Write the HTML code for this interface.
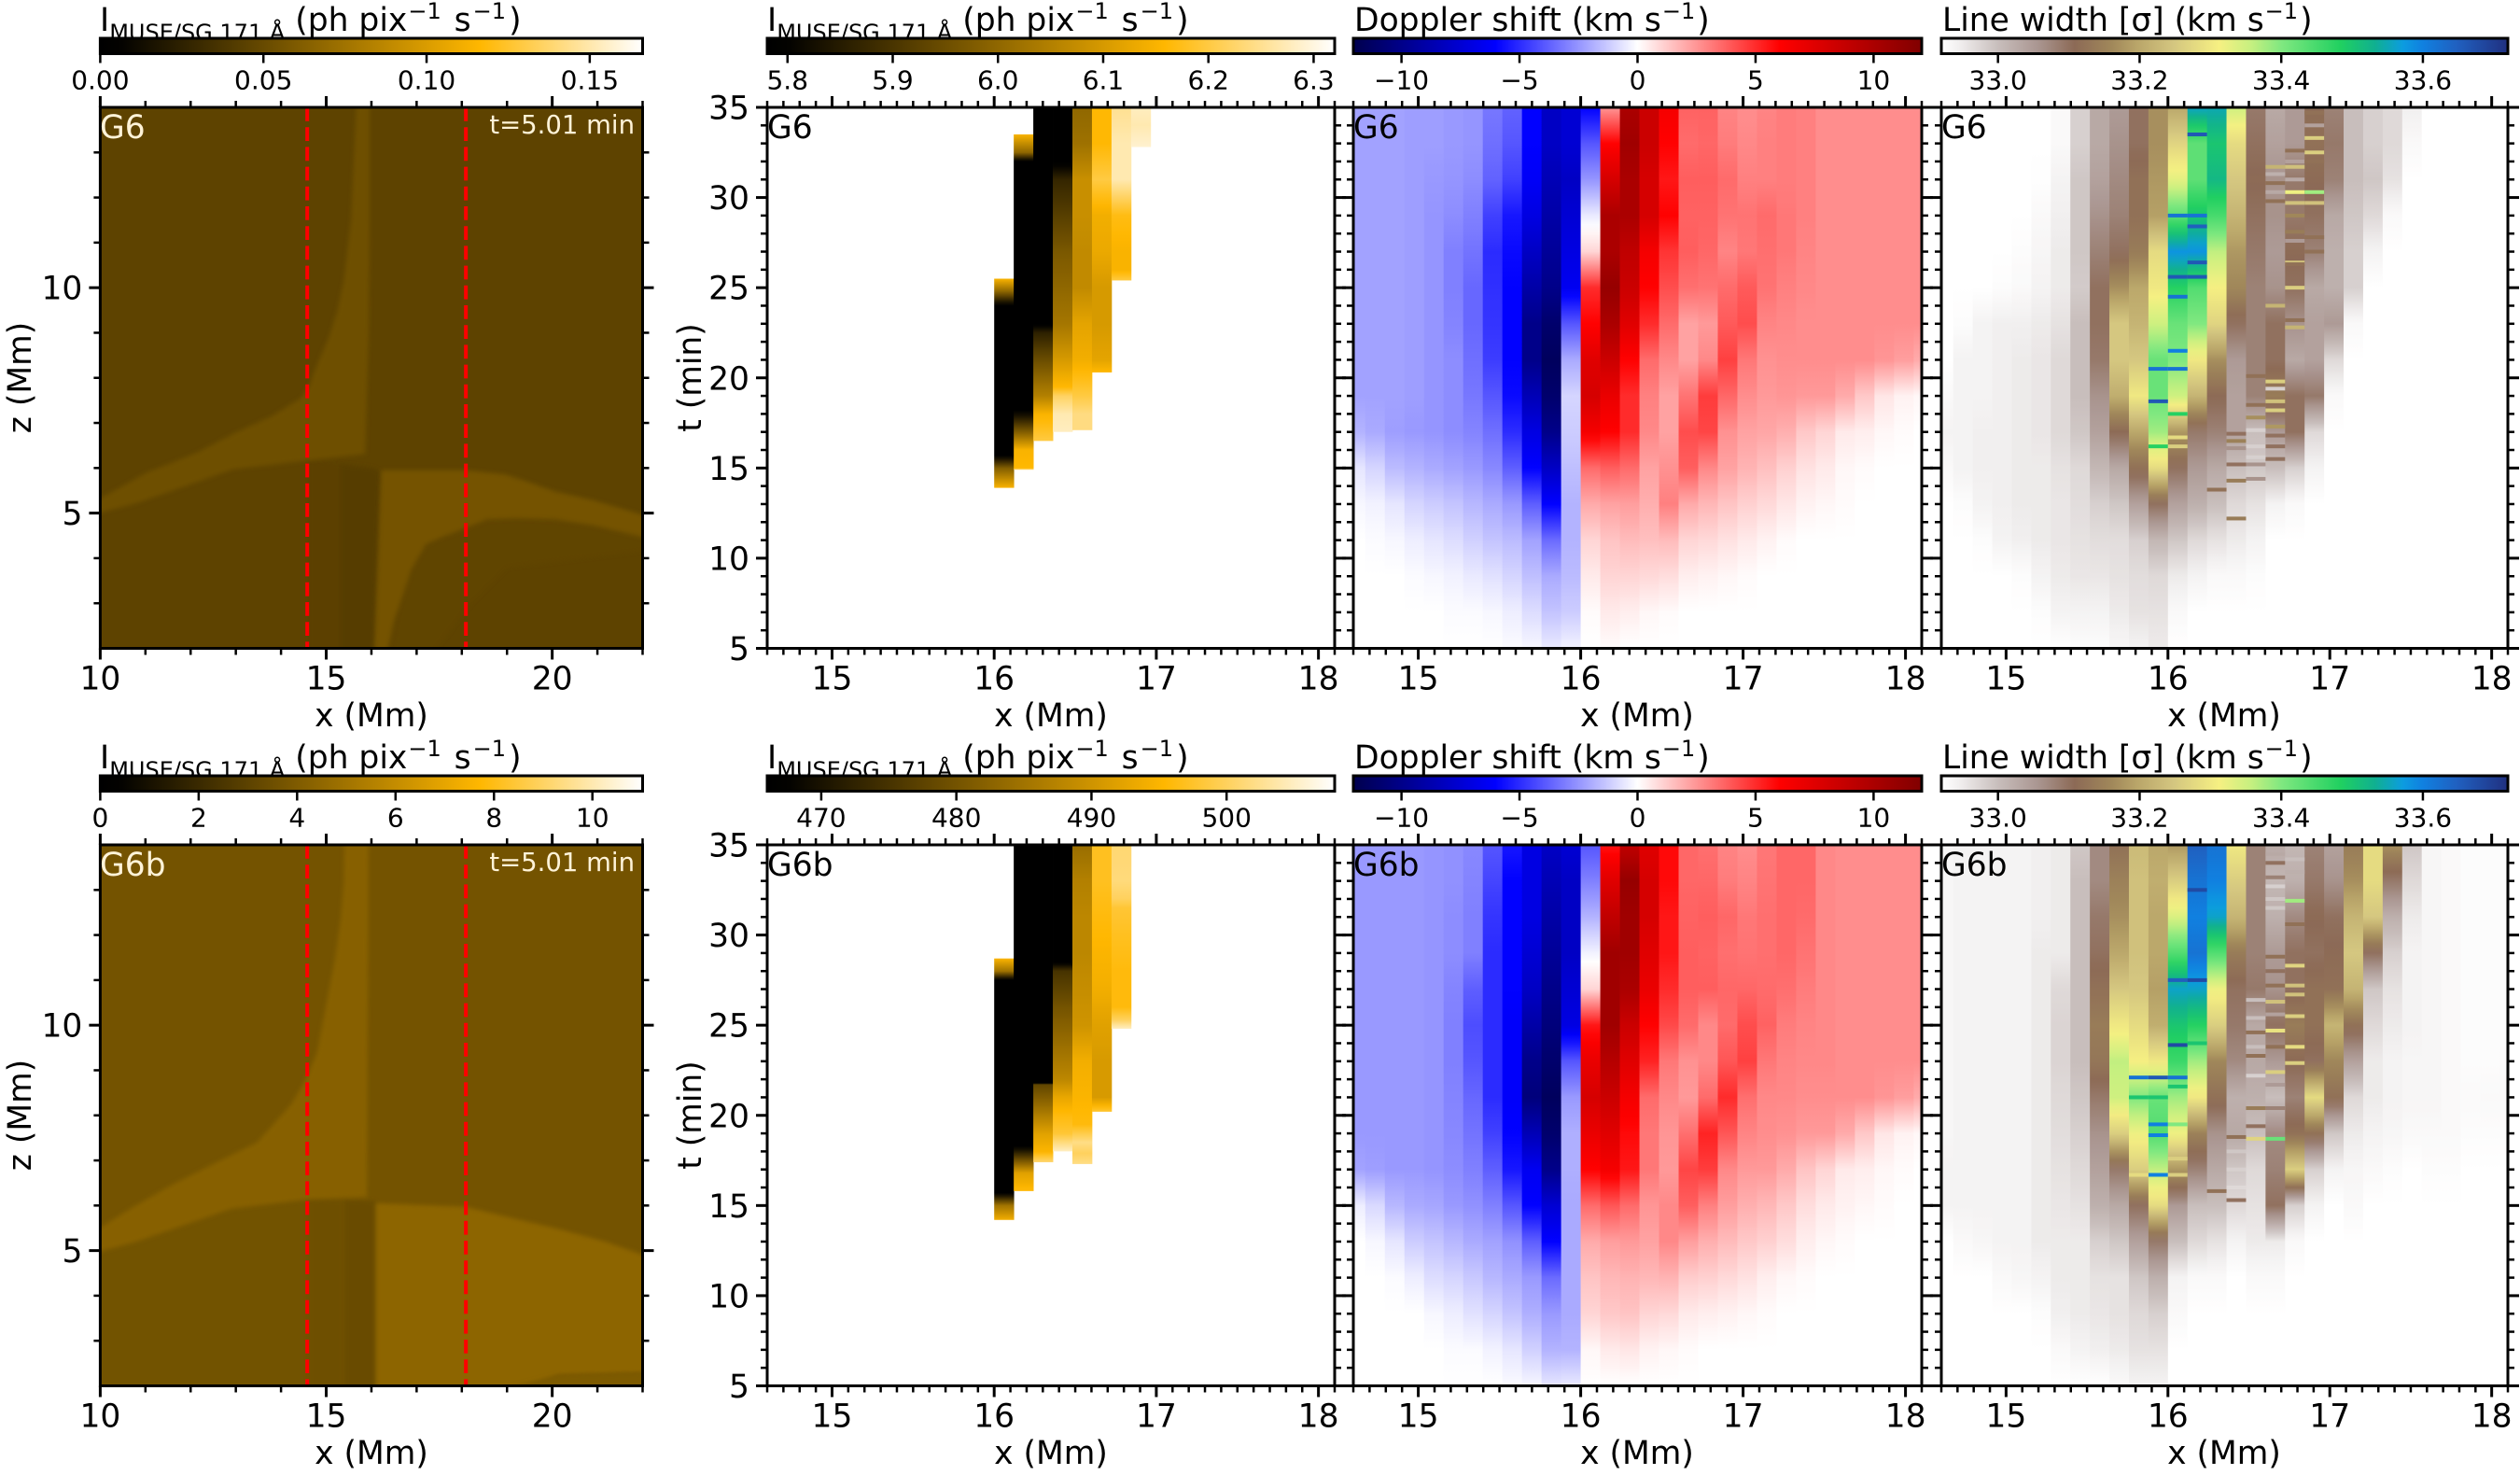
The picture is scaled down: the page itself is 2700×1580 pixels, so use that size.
<!DOCTYPE html>
<html lang="en">
<head>
<meta charset="utf-8">
<title>MUSE/SG 171 Å synthetic observables G6 and G6b</title>
<style>
html,body{margin:0;padding:0;background:#fff;}
svg{display:block;}
text{font-family:"DejaVu Sans","Liberation Sans",sans-serif;fill:#000;}
.lab{font-size:34.5px;}
.sub{font-size:24px;}
.tag{font-size:34.5px;}
.cream{fill:#fff3d8;}
.time{font-size:27.5px;}
.tick{font-size:34.5px;}
.bartick{font-size:28px;}
</style>
</head>
<body>
<svg id="figure" xmlns="http://www.w3.org/2000/svg" width="2700" height="1580" viewBox="0 0 2700 1580">
<rect x="0" y="0" width="2700" height="1580" fill="#fff"/>
<g>
<text class="lab" x="107" y="33">I<tspan class="sub" dy="10">MUSE/SG 171 Å</tspan><tspan dy="-10"> (ph pix</tspan><tspan class="sub" dy="-13" dx="1">−1</tspan><tspan dy="13" dx="3"> s</tspan><tspan class="sub" dy="-13" dx="2">−1</tspan><tspan dy="13" dx="3">)</tspan></text>
<text class="lab" x="822" y="33">I<tspan class="sub" dy="10">MUSE/SG 171 Å</tspan><tspan dy="-10"> (ph pix</tspan><tspan class="sub" dy="-13" dx="1">−1</tspan><tspan dy="13" dx="3"> s</tspan><tspan class="sub" dy="-13" dx="2">−1</tspan><tspan dy="13" dx="3">)</tspan></text>
<text class="lab" x="1451" y="33">Doppler shift (km s<tspan class="sub" dy="-13" dx="1">−1</tspan><tspan dy="13" dx="2">)</tspan></text>
<text class="lab" x="2081" y="33">Line width [σ] (km s<tspan class="sub" dy="-13" dx="1">−1</tspan><tspan dy="13" dx="2">)</tspan></text>
<text class="lab" x="107" y="823">I<tspan class="sub" dy="10">MUSE/SG 171 Å</tspan><tspan dy="-10"> (ph pix</tspan><tspan class="sub" dy="-13" dx="1">−1</tspan><tspan dy="13" dx="3"> s</tspan><tspan class="sub" dy="-13" dx="2">−1</tspan><tspan dy="13" dx="3">)</tspan></text>
<text class="lab" x="822" y="823">I<tspan class="sub" dy="10">MUSE/SG 171 Å</tspan><tspan dy="-10"> (ph pix</tspan><tspan class="sub" dy="-13" dx="1">−1</tspan><tspan dy="13" dx="3"> s</tspan><tspan class="sub" dy="-13" dx="2">−1</tspan><tspan dy="13" dx="3">)</tspan></text>
<text class="lab" x="1451" y="823">Doppler shift (km s<tspan class="sub" dy="-13" dx="1">−1</tspan><tspan dy="13" dx="2">)</tspan></text>
<text class="lab" x="2081" y="823">Line width [σ] (km s<tspan class="sub" dy="-13" dx="1">−1</tspan><tspan dy="13" dx="2">)</tspan></text>
</g>
<g id="marks"></g>
<g>
<text class="tag cream" x="107" y="148">G6</text>
<text class="time cream" x="680" y="143" text-anchor="end">t=5.01 min</text>
<text class="tag" x="822" y="148">G6</text>
<text class="tag" x="1450" y="148">G6</text>
<text class="tag" x="2080" y="148">G6</text>
<text class="tag cream" x="107" y="938">G6b</text>
<text class="time cream" x="680" y="933" text-anchor="end">t=5.01 min</text>
<text class="tag" x="822" y="938">G6b</text>
<text class="tag" x="1450" y="938">G6b</text>
<text class="tag" x="2080" y="938">G6b</text>
</g>
<g>
<text class="lab" x="398" y="778" text-anchor="middle">x (Mm)</text>
<text class="lab" x="1126" y="778" text-anchor="middle">x (Mm)</text>
<text class="lab" x="1754" y="778" text-anchor="middle">x (Mm)</text>
<text class="lab" x="2383" y="778" text-anchor="middle">x (Mm)</text>
<text class="lab" x="398" y="1568" text-anchor="middle">x (Mm)</text>
<text class="lab" x="1126" y="1568" text-anchor="middle">x (Mm)</text>
<text class="lab" x="1754" y="1568" text-anchor="middle">x (Mm)</text>
<text class="lab" x="2383" y="1568" text-anchor="middle">x (Mm)</text>
<text class="lab" transform="translate(33,404.5) rotate(-90)" text-anchor="middle">z (Mm)</text>
<text class="lab" transform="translate(751,404.5) rotate(-90)" text-anchor="middle">t (min)</text>
<text class="lab" transform="translate(33,1194.5) rotate(-90)" text-anchor="middle">z (Mm)</text>
<text class="lab" transform="translate(751,1194.5) rotate(-90)" text-anchor="middle">t (min)</text>
</g>
</svg>
<script>
// ---------- shared axis data ----------
const sampleTimes = [35,33,31,29,27,25,23,21,19,17,15,13,11,9,7,5];
const firstColumnIndex = -12;
const contextXTicks = [10,15,20];
const contextXMinor = [11,12,13,14,16,17,18,19,21,22];
const contextZTicks = [5,10];
const contextZMinor = [3,4,6,7,8,9,11,12,13];
const slitXTicks = [15,16,17,18];
const slitXMinor = [14.6,14.7,14.8,14.9,15.1,15.2,15.3,15.4,15.5,15.6,15.7,15.8,15.9,16.1,16.2,16.3,16.4,16.5,16.6,16.7,16.8,16.9,17.1,17.2,17.3,17.4,17.5,17.6,17.7,17.8,17.9,18.1];
const timeTicks = [5,10,15,20,25,30,35];
const timeMinor = [6,7,8,9,11,12,13,14,16,17,18,19,21,22,23,24,26,27,28,29,31,32,33,34];
const slitPositions = [14.58,18.09];

// ---------- colorbar ticks ----------
const g6ContextBarLabels = ["0.00","0.05","0.10","0.15"];
const g6bContextBarLabels = ["0","2","4","6","8","10"];
const g6IntensityBarLabels = ["5.8","5.9","6.0","6.1","6.2","6.3"];
const g6bIntensityBarLabels = ["470","480","490","500"];
const dopplerBarValues = [-10,-5,0,5,10];
const dopplerBarLabels = ["−10","−5","0","5","10"];
const widthBarLabels = ["33.0","33.2","33.4","33.6"];

// ---------- context image regions (x, z in Mm; value in ph/pix/s) ----------
const g6ContextBase = 0.0458;
const g6ContextStripFar = {value:0.0446, xs:[14.6,15.3,15.3,14.6], zs:[6.15,6.1,1.7,1.7]};
const g6ContextStrip = {value:0.0429, xs:[15.3,16.06,16.2,16.06,15.3], zs:[6.1,6.0,5.9,1.7,1.7]};
const g6ContextLower = {value:0.0468, xs:[16.4,16.66,16.89,17.21,18.08,18.56,20.06,22.3,22.3,19,18.2,17.2], zs:[1.7,3.07,3.76,4.31,4.66,4.86,4.86,4.48,4.2,3.8,3.0,1.7]};
const g6ContextWing = {value:0.0529, xs:[9.7,10.5,11.03,11.6,12.14,13.01,13.8,14.44,14.62,14.75,15.07,15.25,15.39,15.55,15.68,15.96,15.96,15.94,15.86,14.6,12.93,11.74,10.8,9.7], zs:[5.16,5.6,5.9,6.12,6.34,6.79,7.15,7.55,7.8,8.17,8.93,9.5,10.17,11.5,14.3,14.3,11.5,9,6.31,6.17,5.97,5.55,5.22,4.93]};
const g6ContextBand = {value:0.0557, xs:[16.22,18.08,18.95,19.5,20.06,20.93,22.3,22.3,20.93,20.06,19.2,18.56,18.08,17.6,17.21,16.89,16.66,16.5,16.38,16.3,16.06], zs:[5.95,5.95,5.86,5.68,5.48,5.28,4.87,4.4,4.72,4.86,4.88,4.86,4.66,4.48,4.31,3.76,3.07,2.6,2.03,1.7,1.7]};
const g6bContextBase = 3.69;
const g6bContextLower = {value:3.63, xs:[9.7,11.6,12.93,14.6,14.6,9.7], zs:[4.9,5.48,5.97,6.14,1.7,1.7]};
const g6bContextStripFar = {value:3.52, xs:[14.6,15.4,15.4,14.6], zs:[6.14,6.12,1.7,1.7]};
const g6bContextStrip = {value:3.36, xs:[15.4,16.1,16.1,15.4], zs:[6.12,6.1,1.7,1.7]};
const g6bContextWing = {value:4.23, xs:[9.7,10.7,11.57,12.5,13.47,14.23,14.55,14.8,15.04,15.2,15.32,15.39,15.4,15.94,15.9,14.6,12.9,11.6,10.8,9.7], zs:[5.32,5.95,6.45,6.92,7.4,8.25,8.8,9.4,10.67,11.5,12.36,13.2,14.3,14.3,6.19,6.14,5.93,5.48,5.2,4.9]};
const g6bContextBand = {value:4.41, xs:[16.1,18.08,18.95,19.5,20.14,21.17,22.3,22.3,20.14,18.8,16.1], zs:[6.05,5.97,5.76,5.63,5.48,5.2,4.8,2.3,2.24,1.7,1.7]};
const g6bContextFoot = {value:3.95, xs:[18.8,20.14,22.3,22.3], zs:[1.9,2.24,2.3,1.9]};

// ---------- intensity columns: column index, times (min), values ----------
const g6IntensityColumns = [0,1,2,3,4,5,6,7];
const g6IntensityTimes = [
 [25.5,24.8,24,15.7,15,13.9],
 [33.5,32.5,32,18.2,17,16,15,14.9],
 [35,23,22.5,21.5,20,19,18,16.5],
 [35,32,31,29,27,25,23,21,19.5,19,18,17],
 [35,33,31,29,27,25,23,21,19,18,17.1],
 [35,33,31,29,27,25,23,21,20.3],
 [35,33,31,30,29,27,26,25.4],
 [35,34,32.8]
];
const g6IntensityValues = [
 [6.15,6.0,5.78,5.78,5.98,6.15],
 [6.15,6.0,5.78,5.78,5.98,6.15,6.16,6.25],
 [5.78,5.78,5.86,5.92,6.0,6.05,6.15,6.2],
 [5.78,5.78,5.87,5.92,5.97,6.0,6.03,6.1,6.16,6.22,6.27,6.28],
 [6.0,6.02,6.08,6.08,6.07,6.07,6.12,6.14,6.2,6.24,6.24],
 [6.16,6.16,6.2,6.14,6.13,6.1,6.1,6.12,6.16],
 [6.25,6.27,6.27,6.22,6.17,6.15,6.15,6.2],
 [6.28,6.27,6.29]
];
const g6bIntensityColumns = [0,1,2,3,4,5,6];
const g6bIntensityTimes = [
 [28.7,28,27.5,15.7,15,14.2],
 [35,18.3,17.5,16.8,15.8],
 [35,21.8,21.7,20.5,19,18,17.4],
 [35,28.5,28,26,24,22,21,20,19,18],
 [35,33,31,29,27,25,23,21,19.5,18.5,17.9,17.3],
 [35,33,31,29,27,25,23,21,20.2],
 [35,33,32,31.5,30,28,26,25.3,24.8]
];
const g6bIntensityValues = [
 [495,485,466,466,485,494],
 [466,466,480,492,496],
 [466,466,478,484,492,495,501],
 [466,466,475,480,484,488,493,496,498,505],
 [484,487,488,488,489,490,494,495,496,502,500,502],
 [497,497,496,495,494,492,491,491,498],
 [501,501.5,500,498,497,496,496,500,505]
];

// ---------- Doppler shift (km/s): one row per x bin, one value per sample time ----------
const g6Doppler = [
 [-2.2,-2.2,-2.2,-2.2,-2.2,-2.2,-2.2,-2.2,-2.2,-1.8,-0.6,-0.2,0,0,0,0],
 [-2.2,-2.2,-2.2,-2.2,-2.2,-2.2,-2.2,-2.2,-2.2,-2,-1,-0.3,-0.1,0,0,0],
 [-2.2,-2.2,-2.2,-2.2,-2.2,-2.2,-2.2,-2.2,-2.2,-2.3,-1.6,-0.6,-0.2,0,0,0],
 [-2.3,-2.3,-2.3,-2.3,-2.3,-2.3,-2.3,-2.3,-2.3,-2.4,-1.8,-1,-0.4,-0.1,0,0],
 [-2.3,-2.3,-2.4,-2.5,-2.5,-2.5,-2.5,-2.5,-2.5,-2.5,-2,-1.2,-0.6,-0.2,0,0],
 [-2.4,-2.4,-2.5,-2.7,-3,-3,-2.9,-2.7,-2.7,-2.7,-2.2,-1.4,-0.8,-0.3,-0.1,0],
 [-2.5,-2.5,-2.7,-3,-3.3,-3.6,-3.6,-3.4,-3.2,-2.9,-2.4,-1.7,-1.1,-0.5,-0.1,0],
 [-3.2,-3.4,-3.7,-4.5,-5,-4.9,-4.8,-4.6,-4,-3.4,-2.8,-2,-1.4,-0.7,-0.2,0],
 [-3.7,-4,-4.5,-5.5,-5.8,-6,-6,-6,-5.8,-5,-3.8,-2.4,-1.6,-1,-0.4,-0.1],
 [-6,-6,-6.3,-7,-8,-9,-10,-10,-8.5,-7,-6,-3.8,-2.2,-1.5,-0.8,-0.2],
 [-8,-8,-8.5,-9,-9.5,-10,-11,-11.5,-11,-10,-8,-6,-3.5,-2,-1.4,-0.5],
 [-7.5,-7.5,-8,-7.5,-7,-6.5,-4,-2,-1,-1.2,-1.5,-1.8,-1.8,-1.6,-1.2,-0.3],
 [-6,-4,-2.5,-0.5,1,5,6,7.5,8,6.5,3.5,2,1,0.5,0.1,0],
 [2.5,6,8,10,10,11,10,8.5,7,6,3.8,2.2,1.4,1,0.5,0.1],
 [10,10.5,10,10,9,8.5,7.5,6,5,5,3.5,2.3,1.6,1,0.4,0],
 [8.5,8.5,8,8,6.5,6,5,3.5,3,2.8,2.2,1.9,1.5,0.9,0.2,0],
 [6.5,6,5.5,6,4.8,4.2,3.5,2.8,2.2,2.2,2.6,3,1.6,0.8,0.1,0],
 [3.7,3.5,3.8,3.7,3.8,3.4,2.2,2.2,3.3,4.2,3.8,2,1,0.4,0,0],
 [3.7,3.6,3.8,3.7,3.6,3.3,2.4,2.8,4.6,4.4,2.8,1.7,0.9,0.3,0,0],
 [2.9,3.1,3.5,3.3,2.9,3.5,3.9,4.5,3.6,2.6,2.2,1.4,0.7,0.2,0,0],
 [2.7,2.8,3,3.3,3.2,3.9,4.2,3.2,2.7,2.2,1.8,1.1,0.5,0.1,0,0],
 [2.9,3,3,3.5,3.4,3.3,2.9,2.6,2.4,2.1,1.5,0.9,0.3,0,0,0],
 [3.1,3.1,3.1,3.2,3.2,3,2.8,2.7,2.5,1.9,1.1,0.6,0.1,0,0,0],
 [3,3,3,3,2.9,2.8,2.7,2.7,2.4,1.3,0.7,0.3,0,0,0,0],
 [2.7,2.7,2.7,2.7,2.7,2.7,2.7,2.7,2.4,1,0.5,0.2,0,0,0,0],
 [2.7,2.7,2.7,2.7,2.7,2.7,2.7,2.7,2,0.5,0.2,0.1,0,0,0,0],
 [2.7,2.7,2.7,2.7,2.7,2.7,2.7,2.7,1.3,0.4,0.1,0,0,0,0,0],
 [2.7,2.7,2.7,2.7,2.7,2.7,2.7,2.5,0.6,0.2,0,0,0,0,0,0],
 [2.7,2.7,2.7,2.7,2.7,2.7,2.7,2.3,0.3,0.1,0,0,0,0,0,0],
 [2.7,2.7,2.7,2.7,2.7,2.7,2.7,2,0.2,0,0,0,0,0,0,0]
];
const g6bDoppler = [
 [-2.4,-2.4,-2.4,-2.4,-2.4,-2.4,-2.4,-2.4,-2.4,-2.2,-0.4,0,0,0,0,0],
 [-2.4,-2.4,-2.4,-2.4,-2.4,-2.4,-2.4,-2.4,-2.4,-2.3,-0.9,-0.2,0,0,0,0],
 [-2.4,-2.4,-2.4,-2.4,-2.4,-2.4,-2.4,-2.4,-2.4,-2.4,-1.7,-0.6,-0.1,0,0,0],
 [-2.4,-2.4,-2.4,-2.4,-2.4,-2.4,-2.4,-2.4,-2.4,-2.4,-2,-1.2,-0.4,0,0,0],
 [-2.5,-2.5,-2.5,-2.5,-2.5,-2.5,-2.5,-2.5,-2.5,-2.5,-2.1,-1.4,-0.8,-0.2,0,0],
 [-2.6,-2.6,-2.7,-2.7,-2.9,-3,-3,-2.9,-2.8,-2.7,-2.4,-1.7,-1,-0.4,-0.1,0],
 [-2.8,-2.9,-3,-3,-3.8,-4.2,-4,-3.6,-3.3,-3,-2.6,-2,-1.3,-0.7,-0.1,0],
 [-4,-4.4,-4.8,-5,-5,-5,-5,-5,-4.5,-3.8,-3,-2.2,-1.7,-1,-0.3,0],
 [-5.5,-6,-6,-6,-6,-6.2,-6.2,-6.2,-6,-5.5,-4,-2.6,-2,-1.4,-0.6,-0.1],
 [-7,-7,-7,-7.5,-8,-9,-10,-10.5,-8.5,-6.5,-6,-3.8,-2.4,-1.9,-1.1,-0.2],
 [-8,-8.5,-9,-9.5,-10,-10.5,-11,-11.5,-11,-10,-7.5,-6,-3.5,-2.4,-1.8,-0.6],
 [-7.5,-8,-8,-8,-7.5,-7,-4,-2.4,-1.9,-1.9,-2,-2,-2,-2,-1.8,-0.5],
 [-4,-3,-1.8,-0.3,1,5.5,7,8,7,6,3.5,2,1.4,1,0.2,0],
 [5.5,7.5,9,10.5,10.5,10.5,9.5,8.5,7.5,6.5,4,2.3,1.7,1.3,0.5,0],
 [9,11,10.5,10.5,10,8.5,7.5,6.5,5.8,5.5,3.5,2.4,1.8,1.4,0.6,0],
 [7.5,8,8,7.5,7,6,5.2,3.5,3.2,3.2,2.5,2.2,1.7,1,0.3,0],
 [5.8,5.8,5.5,5.5,5,4.3,3.2,2.8,2.5,2.4,2.8,2.8,1.8,0.9,0.2,0],
 [3.6,3.6,3.7,3.8,3.8,3.5,2.6,2.4,3.4,4.4,3.8,2.3,1.2,0.5,0.1,0],
 [3.4,3.6,3.8,3.7,3.8,2.8,2.8,3.5,5.2,4.6,3,1.9,1.1,0.4,0,0],
 [2.9,3.1,3.6,3.4,3.6,3.5,4,5,4,2.8,2.3,1.6,0.9,0.3,0,0],
 [2.7,2.9,3.2,3.3,3.6,4.2,4.5,3.4,2.9,2.4,1.9,1.3,0.7,0.2,0,0],
 [3.2,3.3,3.4,3.4,3.5,3.7,3.2,2.8,2.7,2.4,1.7,1.1,0.4,0.1,0,0],
 [3.6,3.6,3.6,3.6,3.4,3.1,2.9,2.8,2.6,2,1.3,0.8,0.2,0,0,0],
 [3.6,3.6,3.5,3.3,3.1,2.9,2.8,2.7,2.4,1.4,0.8,0.4,0.1,0,0,0],
 [2.8,2.8,2.8,2.8,2.8,2.8,2.8,2.7,2.4,1,0.5,0.2,0,0,0,0],
 [2.7,2.7,2.7,2.7,2.7,2.7,2.7,2.7,2,0.5,0.3,0.1,0,0,0,0],
 [2.7,2.7,2.7,2.7,2.7,2.7,2.7,2.7,1.3,0.4,0.2,0,0,0,0,0],
 [2.7,2.7,2.7,2.7,2.7,2.7,2.7,2.5,0.6,0.2,0.1,0,0,0,0,0],
 [2.7,2.7,2.7,2.7,2.7,2.7,2.7,2.3,0.3,0.1,0,0,0,0,0,0],
 [2.7,2.7,2.7,2.7,2.7,2.7,2.7,2,0.2,0,0,0,0,0,0,0]
];

// ---------- line width: value = widthOrigin + entry * widthUnit (km/s) ----------
const widthOrigin = 33;
const widthUnit = 0.01;
const g6Width = [
 [-8,-8,-8,-8,-8,-8,-8,-8,-7,-6,-7,-8,-8,-8,-8,-8],
 [-8,-8,-8,-8,-8,-8,-7.5,-6,-6,-6,-6,-7.5,-8,-8,-8,-8],
 [-8,-8,-8,-8,-8,-8,-6,-6,-6,-5.5,-5.5,-6,-7.5,-8,-8,-8],
 [-8,-8,-8,-8,-8,-7.5,-5.5,-5.5,-5.5,-5.5,-5.5,-5.5,-6,-8,-8,-8],
 [-8,-8,-8,-8,-7.5,-7,-5.5,-5,-5,-5,-5,-5,-5.5,-7.5,-8,-8],
 [-8,-8,-7.8,-7,-6.5,-6,-5,-4.5,-4.5,-4.5,-5,-5,-5,-6,-7.5,-8],
 [-7,-7,-6,-5.5,-5,-5,-4,-3,-3,-3,-4,-4.5,-4.5,-5,-6,-8],
 [-2,-2,-1,-1,-1,-1.5,0,0,0,-1,-3,-3.5,-4,-4.5,-6,-7.5],
 [3,3,4,6,8,10,10,9,6,4,1,-2,-3.5,-4.5,-6,-7.5],
 [5,6,7,8,10,17,25,25,21,11,3,-1,-3.5,-4,-5,-6.5],
 [10,10,12,12,14,20,22,25,30,20,12,4,-2,-3.5,-4,-6],
 [17,17,18,19,28,30,35,42,42,38,28,10,1,-3,-4,-5],
 [20,27,33,43,58,48,42,40,35,18,10,4,-1,-5,-7,-8],
 [56,43,43,50,58,44,40,30,22,9,5,2,-3,-6,-8,-8],
 [55,50,52,45,36,31,27,17,11,8,3,0,-4,-7,-8,-8],
 [35,28,25,22,18,16,10,5,4,4,0,-3,-5,-7,-8,-8],
 [9,10,11,10,9,8,8,8,8,0,-1,-4,-6,-7.5,-8,-8],
 [3,4,6,6,5,6,10,10,14,5,0,-6,-8,-8,-8,-8],
 [5,5,9,9,11,10,6,3,10,10,-2,-7,-8,-8,-8,-8],
 [11,12,11,10,8,3,4,4,9,-3,-6,-8,-8,-8,-8,-8],
 [8,9,8,3,2,2,5,-3,-7,-8,-8,-8,-8,-8,-8,-8],
 [0,0,0,-1,-2,-2,-7,-8,-8,-8,-8,-8,-8,-8,-8,-8],
 [-2,-2,-1,-3,-6,-8,-8,-8,-8,-8,-8,-8,-8,-8,-8,-8],
 [-3,-3,-4,-7,-8,-8,-8,-8,-8,-8,-8,-8,-8,-8,-8,-8],
 [-5.5,-7,-8,-8,-8,-8,-8,-8,-8,-8,-8,-8,-8,-8,-8,-8],
 [-8,-8,-8,-8,-8,-8,-8,-8,-8,-8,-8,-8,-8,-8,-8,-8],
 [-8,-8,-8,-8,-8,-8,-8,-8,-8,-8,-8,-8,-8,-8,-8,-8],
 [-8,-8,-8,-8,-8,-8,-8,-8,-8,-8,-8,-8,-8,-8,-8,-8],
 [-8,-8,-8,-8,-8,-8,-8,-8,-8,-8,-8,-8,-8,-8,-8,-8],
 [-8,-8,-8,-8,-8,-8,-8,-8,-8,-8,-8,-8,-8,-8,-8,-8]
];
const g6bWidth = [
 [-6.5,-6.5,-6.5,-6.5,-6.5,-6.5,-6.5,-6.5,-6.5,-6,-6,-8,-8,-8,-8,-8],
 [-6,-6,-6,-6,-6,-6,-6,-6,-6,-6,-6,-7,-8,-8,-8,-8],
 [-6,-6,-6,-6,-6,-6,-6,-6,-6,-6,-6,-6.5,-8,-8,-8,-8],
 [-6,-6,-6,-6,-6,-6,-6,-6,-6,-6,-6,-6,-7,-8,-8,-8],
 [-6,-6,-6,-6,-6,-6,-6,-6,-6,-6,-6,-6,-6.5,-8,-8,-8],
 [-5.5,-5.5,-5.5,-5,-5,-5,-5,-5,-5,-5,-5,-5,-6,-7.5,-8,-8],
 [-5,-5,-5,-5,-3,-2.5,-2.5,-3,-3.5,-4,-4.5,-5,-5,-5.5,-7,-8],
 [-1,0,0,0,0,0,0,-1,-2,-3,-4,-5,-5,-5,-6,-8],
 [7,7,9,10,12,14,13,9,6,4,2,-2,-4,-4.5,-5.5,-8],
 [12,15,17,20,25,30,36,35,26,9,3,-1,-4,-4,-5,-7],
 [23,24,24,24,25,28,31,40,32,26,10,4,-1,-3,-4,-6],
 [20,21,20,20,19,21,30,42,44,36,28,9,2,-2,-4,-6],
 [18,26,34,44,56,50,46,38,32,18,5,0,-6,-7,-8,-8],
 [65,62,60,62,56,48,38,30,15,8,0,-3,-7,-8,-8,-8],
 [62,60,56,44,32,26,16,12,6,3,0,-4,-7,-8,-8,-8],
 [30,26,22,14,10,9,7,2,3,-1,-3,-6,-8,-8,-8,-8],
 [8,8,8,8,9,3,3,2,0,-3,-4,-5,-7,-8,-8,-8],
 [3,1,2,5,6,10,5,0,7,8,10,-5,-7,-8,-8,-8],
 [1,2,7,10,10,14,11,8,12,26,-2,-7,-8,-8,-8,-8],
 [8,9,11,10,12,12,10,28,12,-2,-6,-8,-8,-8,-8,-8],
 [4,6,10,11,12,22,16,12,-1,-6,-8,-8,-8,-8,-8,-8],
 [14,17,22,25,22,12,4,-3,-5,-6.5,-7,-8,-8,-8,-8,-8],
 [28,28,25,10,-1,-3,-5,-5,-6,-7,-8,-8,-8,-8,-8,-8],
 [17,9,2,-2,-4,-5,-6,-6,-6.5,-7.5,-8,-8,-8,-8,-8,-8],
 [-1,-3,-5,-6,-6,-6,-6.5,-6.5,-7,-8,-8,-8,-8,-8,-8,-8],
 [-6.5,-6.5,-6.5,-6.5,-6.5,-6.5,-6.5,-6.5,-7,-7.5,-8,-8,-8,-8,-8,-8],
 [-7,-7,-7,-7,-7,-7,-7,-7,-7,-7.5,-8,-8,-8,-8,-8,-8],
 [-7.5,-7.5,-7.5,-7.5,-7.5,-7.5,-7.5,-7.2,-7.5,-8,-8,-8,-8,-8,-8,-8],
 [-7.5,-7.5,-7.5,-7.5,-7.5,-7.5,-7.5,-7,-7.5,-8,-8,-8,-8,-8,-8,-8],
 [-7.5,-7.5,-7.5,-7.5,-7.5,-7.5,-7.2,-7,-7.5,-8,-8,-8,-8,-8,-8,-8]
];
// thin single-exposure stripes: column, time, width entry
const g6WidthStripeColumns = [0,1,1,0,1,1,0,-1,0,0,-1,-1,0,0,0,6,7,7,7,6,7,6,6,5,5,6,5,5,5,4,3,2,3,1,
 5,5,5,5,6,6,6,6,6,6,6,6,6,7,7,7,7,7,5,5,5,5,5,4,4,4,4,4,4,4,4,3,3,3,3];
const g6WidthStripeTimes = [29,29,28.4,25.6,25.6,26.4,24.5,20.5,20.5,21.5,18.7,16.2,18,16.7,16.2,30.3,30.3,33.3,32.5,29.7,29.7,25,26.4,24,31.7,22.8,19.8,19.4,18.7,17.8,16.5,13.8,12.2,33.5,
 31.3,30.8,30.3,29.8,32.6,32,31.7,31,29,28.1,27.6,26.3,23.2,34.7,34,32,27.8,27,18.2,17.3,16.8,16.2,15.5,20.1,19.6,18.5,17.1,16.2,15.6,15.2,14.4,16.9,16.1,15.2,14.3];
const g6WidthStripeValues = [62,62,65,66,66,66,62,62,62,60,66,48,48,28,26,32,38,26,26,24,24,26,24,22,22,22,26,-2,24,17,15,12,14,66,
 2,12,3,12,12,4,24,3,16,14,5,12,12,12,4,12,12,12,26,18,10,10,10,12,8,12,-2,-2,-2,6,6,10,6,10,14];
const g6bWidthStripeColumns = [0,1,0,1,-2,-1,0,-1,-2,0,-1,0,-1,-1,-2,0,0,1,6,6,6,5,5,4,6,6,5,2,
 5,5,5,5,5,5,5,5,5,5,5,5,5,5,6,6,6,6,6,4,4,4,4,4,4,4,4,3,3,3,3,3];
const g6bWidthStripeTimes = [27.5,27.5,23.9,24,22.1,22.1,22.1,21,21,21.6,19.5,19.5,18.9,16.7,16.7,17.6,16.7,32.5,31.9,28.3,25.5,24.7,18.7,18.7,23.8,22.9,22.4,15.8,
 34.5,34,33.2,32.7,32,31.5,28.8,28,27.2,26.3,25.6,23.8,21.7,20.4,34.2,33.5,30.6,27.2,26.7,26.4,25.4,24.6,23.8,23.3,22.2,20.4,19.4,18.8,18,17,16,15.3];
const g6bWidthStripeValues = [65,68,68,50,62,66,62,50,50,50,60,40,60,60,28,26,26,68,38,27,26,29,42,27,28,26,26,12,
 3,10,8,-2,-1,-1,12,10,12,24,4,12,5,8,0,2,12,24,24,0,0,12,0,12,-2,14,10,12,-1,-2,-3,10];

// ---------- colormaps (position on bar, red, green, blue) ----------
const intensityCmapStops = [[0,0,0,0],[0.04,4,3,0],[0.7,255,183,0],[1,255,255,255]];
const dopplerCmapStops = [[0,0,0,77],[0.25,0,0,255],[0.5,255,255,255],[0.75,255,0,0],[1,128,0,0]];
const widthCmapStops = [[0,255,255,255],[0.03,242,240,240],[0.1,200,190,188],[0.17,170,150,145],[0.235,140,106,86],[0.3,160,135,90],[0.345,185,165,105],[0.41,212,198,128],[0.49,246,240,130],[0.545,200,240,128],[0.6,128,232,128],[0.705,32,208,96],[0.765,16,176,144],[0.815,12,156,224],[0.85,16,128,224],[0.91,32,96,192],[1,32,48,128]];

// ---------- helpers ----------
const NS = "http://www.w3.org/2000/svg";
const marks = document.getElementById("marks");
const defs = document.createElementNS(NS, "defs");
marks.appendChild(defs);
let gradientCounter = 0;

function make(tag, parent, attrs) {
  const node = document.createElementNS(NS, tag);
  for (const key in attrs) node.setAttribute(key, attrs[key]);
  parent.appendChild(node);
  return node;
}
const softEdge = make("filter", defs, {id: "soft-edge", x: "-10%", y: "-10%", width: "120%", height: "120%"});
make("feGaussianBlur", softEdge, {stdDeviation: 2.5});

function linearScale(d0, d1, r0, r1) {
  return function (v) { return r0 + (v - d0) * (r1 - r0) / (d1 - d0); };
}
function colorAt(stops, f) {
  const t = Math.max(0, Math.min(1, f));
  for (let i = 1; i < stops.length; i++) {
    if (t <= stops[i][0]) {
      const a = stops[i - 1], b = stops[i];
      const w = (t - a[0]) / (b[0] - a[0]);
      return "rgb(" + Math.round(a[1] + (b[1] - a[1]) * w) + "," + Math.round(a[2] + (b[2] - a[2]) * w) + "," + Math.round(a[3] + (b[3] - a[3]) * w) + ")";
    }
  }
  return "rgb(255,255,255)";
}
function colormap(stops, vmin, vmax) {
  return function (v) { return colorAt(stops, (v - vmin) / (vmax - vmin)); };
}
function fillGradient(gradient, times, values, color, start, end) {
  const span = end - start;
  for (let i = 0; i < times.length; i++) {
    const steps = i === times.length - 1 ? 1 : 4;
    for (let s = 0; s < steps; s++) {
      const w = s / 4;
      const t = i === times.length - 1 ? times[i] : times[i] + (times[i + 1] - times[i]) * w;
      const v = i === times.length - 1 ? values[i] : values[i] + (values[i + 1] - values[i]) * w;
      make("stop", gradient, {offset: (t - start) / span, "stop-color": color(v)});
    }
  }
}
function columnLeft(k) { return 16 + k * 0.1206; }

function drawColumn(group, xAxis, tAxis, k, times, values, color, name) {
  const id = "grad" + (gradientCounter++);
  const start = times[0], end = times[times.length - 1];
  const gradient = make("linearGradient", defs, {id: id, gradientUnits: "userSpaceOnUse", x1: 0, x2: 0, y1: tAxis(start), y2: tAxis(end)});
  fillGradient(gradient, times, values, color, start, end);
  const rect = make("rect", group, {x: xAxis(columnLeft(k)), y: tAxis(start), width: xAxis(columnLeft(k + 1)) - xAxis(columnLeft(k)) + 0.4, height: tAxis(end) - tAxis(start), fill: "url(#" + id + ")"});
  
  
}
function drawStripe(group, xAxis, tAxis, k, t, value, color, name) {
  const rect = make("rect", group, {x: xAxis(columnLeft(k)), y: tAxis(t) - 2, width: xAxis(columnLeft(k + 1)) - xAxis(columnLeft(k)), height: 4, fill: color(value)});
  
  
}
function drawRegion(group, xAxis, zAxis, region, color, name) {
  const points = region.xs.map(function (x, i) { return xAxis(x) + "," + zAxis(region.zs[i]); }).join(" ");
  const shape = make("polygon", group, {points: points, fill: color(region.value), filter: "url(#soft-edge)"});
  
  
}
function drawTick(group, x1, y1, x2, y2, width, name) {
  const tick = make("line", group, {x1: x1, y1: y1, x2: x2, y2: y2, stroke: "#000", "stroke-width": width});
  
  
}
function drawLabel(group, cls, x, y, anchor, content, name) {
  const label = make("text", group, {class: cls, x: x, y: y, "text-anchor": anchor});
  label.textContent = content;
  
  
}
function drawAxes(group, box, xAxis, yAxis, xTicks, xMinor, yTicks, yMinor, labelY, name) {
  const major = 12, minor = 7;
  xTicks.forEach(function (v) {
    drawTick(group, xAxis(v), box.top, xAxis(v), box.top - major, 3, name + '-top-major-tick');
    drawTick(group, xAxis(v), box.bottom, xAxis(v), box.bottom + major, 3, name + '-bottom-major-tick');
    drawLabel(group, "tick", xAxis(v), box.bottom + 44, "middle", String(v), name + '-x-tick-label');
  });
  xMinor.forEach(function (v) {
    drawTick(group, xAxis(v), box.top, xAxis(v), box.top - minor, 2.5, name + '-top-minor-tick');
    drawTick(group, xAxis(v), box.bottom, xAxis(v), box.bottom + minor, 2.5, name + '-bottom-minor-tick');
  });
  yTicks.forEach(function (v) {
    drawTick(group, box.left, yAxis(v), box.left - major, yAxis(v), 3, name + '-left-major-tick');
    drawTick(group, box.right, yAxis(v), box.right + major, yAxis(v), 3, name + '-right-major-tick');
    if (labelY) drawLabel(group, "tick", box.left - 19, yAxis(v) + 12.5, "end", String(v), name + '-y-tick-label');
  });
  yMinor.forEach(function (v) {
    drawTick(group, box.left, yAxis(v), box.left - minor, yAxis(v), 2.5, name + '-left-minor-tick');
    drawTick(group, box.right, yAxis(v), box.right + minor, yAxis(v), 2.5, name + '-right-minor-tick');
  });
  const frame = make("rect", group, {x: box.left, y: box.top, width: box.right - box.left, height: box.bottom - box.top, fill: "none", stroke: "#000", "stroke-width": 3});
  
  
}
function drawColorbar(group, box, vmin, vmax, stops, tickValues, tickLabels, name) {
  const id = "grad" + (gradientCounter++);
  const gradient = make("linearGradient", defs, {id: id, x1: 0, x2: 1, y1: 0, y2: 0});
  stops.forEach(function (s) { make("stop", gradient, {offset: s[0], "stop-color": "rgb(" + s[1] + "," + s[2] + "," + s[3] + ")"}); });
  const bar = make("rect", group, {x: box.left, y: box.barTop, width: box.right - box.left, height: box.barBottom - box.barTop, fill: "url(#" + id + ")", stroke: "#000", "stroke-width": 3});
  
  
  const axis = linearScale(vmin, vmax, box.left, box.right);
  tickValues.forEach(function (v, i) {
    drawTick(group, axis(v), box.barBottom, axis(v), box.barBottom + 10, 2.5, name + '-colorbar-tick');
    drawLabel(group, "bartick", axis(v), box.barBottom + 38, "middle", tickLabels[i], name + '-colorbar-tick-label');
  });
}
function clipTo(box, group) {
  const id = "clip" + (gradientCounter++);
  const clip = make("clipPath", defs, {id: id});
  make("rect", clip, {x: box.left, y: box.top, width: box.right - box.left, height: box.bottom - box.top});
  group.setAttribute("clip-path", "url(#" + id + ")");
}
function rowBox(left, right, offset) {
  return {left: left, right: right, top: 115 + offset, bottom: 694.5 + offset, barTop: 41 + offset, barBottom: 57.5 + offset};
}

function drawContext(offset, name, base, regions, vmax, barTicks, barLabels) {
  const box = rowBox(107.4, 688.5, offset);
  const panel = make("g", marks, {});
  
  
  const image = make("g", panel, {});
  
  
  clipTo(box, image);
  const xAxis = linearScale(10, 22, box.left, box.right);
  const zAxis = linearScale(2, 14, box.bottom, box.top);
  const color = colormap(intensityCmapStops, 0, vmax);
  const bg = make("rect", image, {x: box.left, y: box.top, width: box.right - box.left, height: box.bottom - box.top, fill: color(base)});
  
  
  regions.forEach(function (r, i) { drawRegion(image, xAxis, zAxis, r, color, name + '-context-region-' + i); });
  slitPositions.forEach(function (x) {
    const slit = make("line", image, {x1: xAxis(x), x2: xAxis(x), y1: box.top, y2: box.bottom, stroke: "#f00", "stroke-width": 4, "stroke-dasharray": "14.8 6.4"});
    
    
  });
  drawAxes(panel, box, xAxis, zAxis, contextXTicks, contextXMinor, contextZTicks, contextZMinor, true, name + '-context');
  drawColorbar(panel, box, 0, vmax, intensityCmapStops, barTicks, barLabels, name + '-context');
}
function drawIntensity(offset, name, columns, times, values, vmin, vmax, barTicks, barLabels) {
  const box = rowBox(822, 1430, offset);
  const panel = make("g", marks, {});
  
  
  const image = make("g", panel, {});
  
  
  clipTo(box, image);
  const xAxis = linearScale(14.6, 18.1, box.left, box.right);
  const tAxis = linearScale(35, 5, box.top, box.bottom);
  const color = colormap(intensityCmapStops, vmin, vmax);
  columns.forEach(function (k, i) { drawColumn(image, xAxis, tAxis, k, times[i], values[i], color, name + '-intensity'); });
  drawAxes(panel, box, xAxis, tAxis, slitXTicks, slitXMinor, timeTicks, timeMinor, true, name + '-intensity');
  drawColorbar(panel, box, vmin, vmax, intensityCmapStops, barTicks, barLabels, name + '-intensity');
}
function drawDoppler(offset, name, table) {
  const box = rowBox(1450, 2059, offset);
  const panel = make("g", marks, {});
  
  
  const image = make("g", panel, {});
  
  
  clipTo(box, image);
  const xAxis = linearScale(14.6, 18.1, box.left, box.right);
  const tAxis = linearScale(35, 5, box.top, box.bottom);
  const color = colormap(dopplerCmapStops, -12.04, 12.04);
  table.forEach(function (values, i) { drawColumn(image, xAxis, tAxis, firstColumnIndex + i, sampleTimes, values, color, name + '-doppler'); });
  drawAxes(panel, box, xAxis, tAxis, slitXTicks, slitXMinor, timeTicks, timeMinor, false, name + '-doppler');
  drawColorbar(panel, box, -12.04, 12.04, dopplerCmapStops, dopplerBarValues, dopplerBarLabels, name + '-doppler');
}
function drawWidth(offset, name, table, stripeColumns, stripeTimes, stripeValues) {
  const box = rowBox(2080, 2687, offset);
  const panel = make("g", marks, {});
  
  
  const image = make("g", panel, {});
  
  
  clipTo(box, image);
  const xAxis = linearScale(14.6, 18.1, box.left, box.right);
  const tAxis = linearScale(35, 5, box.top, box.bottom);
  const color = colormap(widthCmapStops, 32.92, 33.72);
  const toWidth = function (entry) { return widthOrigin + entry * widthUnit; };
  table.forEach(function (values, i) { drawColumn(image, xAxis, tAxis, firstColumnIndex + i, sampleTimes, values.map(toWidth), color, name + '-width'); });
  stripeColumns.forEach(function (k, i) { drawStripe(image, xAxis, tAxis, k, stripeTimes[i], toWidth(stripeValues[i]), color, name + '-width'); });
  drawAxes(panel, box, xAxis, tAxis, slitXTicks, slitXMinor, timeTicks, timeMinor, false, name + '-width');
  drawColorbar(panel, box, 32.92, 33.72, widthCmapStops, widthBarLabels.map(Number), widthBarLabels, name + '-width');
}

drawContext(0, 'g6', g6ContextBase, [g6ContextStripFar, g6ContextStrip, g6ContextLower, g6ContextWing, g6ContextBand], 0.1662, g6ContextBarLabels.map(Number), g6ContextBarLabels);
drawIntensity(0, 'g6', g6IntensityColumns, g6IntensityTimes, g6IntensityValues, 5.7807, 6.32, g6IntensityBarLabels.map(Number), g6IntensityBarLabels);
drawDoppler(0, 'g6', g6Doppler);
drawWidth(0, 'g6', g6Width, g6WidthStripeColumns, g6WidthStripeTimes, g6WidthStripeValues);

drawContext(790, 'g6b', g6bContextBase, [g6bContextLower, g6bContextStripFar, g6bContextStrip, g6bContextWing, g6bContextBand, g6bContextFoot], 11.02, g6bContextBarLabels.map(Number), g6bContextBarLabels);
drawIntensity(790, 'g6b', g6bIntensityColumns, g6bIntensityTimes, g6bIntensityValues, 466, 508, g6bIntensityBarLabels.map(Number), g6bIntensityBarLabels);
drawDoppler(790, 'g6b', g6bDoppler);
drawWidth(790, 'g6b', g6bWidth, g6bWidthStripeColumns, g6bWidthStripeTimes, g6bWidthStripeValues);
</script>
</body>
</html>
